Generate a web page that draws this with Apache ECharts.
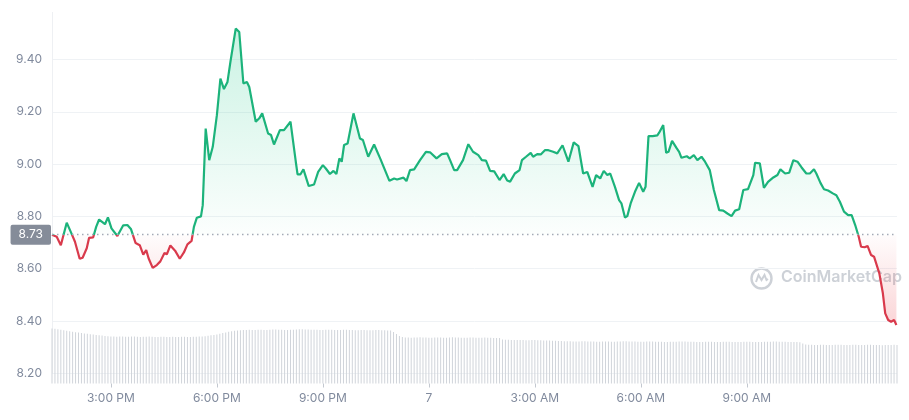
<!DOCTYPE html>
<html><head><meta charset="utf-8">
<script src="https://cdn.jsdelivr.net/npm/echarts@6/dist/echarts.min.js"></script>
<style>html,body{margin:0;padding:0;background:#fff}#c{width:909px;height:420px}</style>
</head><body><div id="c"></div>
<script>
// time slots: 5-minute steps starting 13:20
const startClock = [13, 20];
const stepMinutes = 5;

// price vertices: minutes after start, and price (USD)
const priceMinute = [0,8,15,25,33,39,47,52,59,63,70,75,80,90,95,101,111,121,128,134,142,149,155,160,164,171,178,184,191,195,201,209,217,224,230,237,241,246,253,256,
261,267,273,280,286,292,298,303,312,318,325,331,335,346,352,357,367,372,377,387,394,405,414,417,422,427,436,445,452,460,465,472,478,483,488,492,496,502,512,523,528,537,547,558,562,573,581,586,597,602,608,615,625,635,642,653,662,671,676,683,688,698,707,715,724,730,737,744,751,760,767,773,778,786,794,798,805,813,817,824,830,837,843,851,858,867,877,886,894,902,909,918,924,931,937,943,948,956,963,967,973,977,983,990,997,1004,1008,1013,1020,1023,1028,1031,1038,1043,1047,1053,1061,1065,1069,1078,1083,1090,1096,1103,1109,1117,1124,1133,1140,1147,1154,1160,1167,1174,1182,1191,1194,1202,1209,1216,1225,1232,1237,1245,1252,1259,1266,1273,1281,1287,1294,1298,1305,1311,1318,1326,1332,1338,1345,1352,1358,1364,1370,1374,1380,1385,1391,1396,1399,1405,1411,1415,1420,1425,1430,1434];
const price = [8.730,8.722,8.690,8.776,8.735,8.703,8.638,8.642,8.678,8.718,8.720,8.760,8.788,8.770,8.796,8.754,8.725,8.766,8.767,8.752,8.698,8.690,8.654,8.671,8.640,8.603,8.614,8.628,8.660,8.655,8.689,8.669,8.638,8.662,8.693,8.706,8.760,8.795,8.800,8.843,
9.136,9.015,9.066,9.187,9.327,9.287,9.314,9.391,9.518,9.505,9.308,9.314,9.295,9.162,9.175,9.194,9.117,9.111,9.075,9.130,9.130,9.162,9.009,8.961,8.961,8.980,8.916,8.922,8.970,8.996,8.983,8.962,8.974,8.962,9.022,9.009,9.073,9.079,9.194,9.098,9.092,9.028,9.075,9.018,8.996,8.936,8.945,8.941,8.948,8.935,8.977,8.980,9.015,9.047,9.045,9.022,9.038,9.041,9.015,8.977,8.977,9.015,9.076,9.047,9.034,9.015,9.013,8.974,8.972,8.939,8.962,8.937,8.933,8.964,8.977,9.015,9.028,9.043,9.028,9.038,9.037,9.053,9.053,9.047,9.041,9.072,9.009,9.083,9.069,8.964,8.970,8.913,8.958,8.945,8.974,8.958,8.964,8.913,8.862,8.850,8.796,8.801,8.852,8.894,8.928,8.894,8.913,9.107,9.107,9.113,9.110,9.120,9.149,9.043,9.047,9.089,9.060,9.047,9.024,9.030,9.022,9.034,9.015,9.028,9.009,8.977,8.901,8.824,8.822,8.811,8.801,8.822,8.827,8.901,8.904,8.958,9.005,9.003,8.909,8.932,8.949,8.958,8.980,8.964,8.967,9.015,9.009,8.987,8.964,8.964,8.980,8.964,8.928,8.904,8.899,8.888,8.881,8.856,8.818,8.805,8.805,8.767,8.722,8.684,8.682,8.687,8.652,8.646,8.652,8.582,8.506,8.429,8.404,8.397,8.404,8.385];

// 24h volume (millions USD), one bar per 5-minute slot
const volume = [
220,219,217,215,213,211,209,207,205,204,
202,200,199,197,196,194,193,192,190,189,
188,188,187,188,188,187,187,188,188,187,186,187,187,188,187,186,186,187,187,186,186,187,186,186,187,187,186,186,187,187,188,188,189,
191,193,194,196,199,202,204,207,209,211,212,
213,214,214,215,214,214,215,215,214,214,215,216,216,215,215,214,214,215,215,216,217,217,216,216,215,215,215,214,214,215,215,215,214,214,214,215,215,214,214,213,213,214,214,213,213,213,214,214,213,213,212,212,
206,198,190,186,
184,184,183,184,184,185,184,184,183,183,184,184,184,183,183,184,185,184,184,183,183,183,184,184,183,183,183,184,183,183,182,182,182,
176,175,175,174,174,174,174,174,173,173,174,174,173,173,172,172,172,171,171,170,
170,169,169,169,168,168,168,169,169,168,168,168,167,167,168,168,168,167,167,168,168,169,169,168,168,168,167,167,167,168,168,168,167,167,167,166,166,167,167,167,168,168,168,167,167,167,166,166,166,167,167,167,166,166,166,167,167,167,166,166,166,166,167,167,167,166,166,166,166,167,167,167,168,168,167,167,167,166,166,166,166,165,
160,156,155,155,154,154,155,155,154,154,154,155,155,155,154,154,154,155,155,154,154,154,155,155,154,154,154,153,154,154,154,155,154];

const basePrice = 8.73;
const yMin = 8.2, yMax = 9.58, yStep = 0.2;
const xTickTimes = ['15:00','18:00','21:00','00:00','03:00','06:00','09:00'];
const xTickLabels = ['3:00 PM','6:00 PM','9:00 PM','7','3:00 AM','6:00 AM','9:00 AM'];

const pad = n => (n < 10 ? '0' : '') + n;
const categories = volume.map((_, i) => {
  const m = (startClock[0] * 60 + startClock[1] + i * stepMinutes) % 1440;
  return pad(Math.floor(m / 60)) + ':' + pad(m % 60);
});
const spanMinutes = (volume.length - 1) * stepMinutes;
const pricePairs = price.map((v, i) => [priceMinute[i], v]);
const pMax = Math.max(...price), pMin = Math.min(...price);
const frac = (pMax - basePrice) / (pMax - pMin);

const GREEN = '#1cb37b', RED = '#d93a4c', GRAY = '#808a9d';
const isTick = (idx, val) => xTickTimes.indexOf(val) >= 0;

const chart = echarts.init(document.getElementById('c'), null, {renderer: 'canvas'});
chart.setOption({
  animation: false,
  backgroundColor: '#fff',
  textStyle: {fontFamily: 'Inter, "Noto Sans", sans-serif'},
  grid: [
    {left: 52, right: 12, top: 12.4, bottom: 46.7, containLabel: false},
    {left: 52, right: 12, top: 303.5, bottom: 36.5, containLabel: false}
  ],
  xAxis: [
    {type: 'value', gridIndex: 0, min: 0, max: spanMinutes, show: false},
    {type: 'category', gridIndex: 1, data: categories, boundaryGap: false,
     axisLine: {show: false},
     axisTick: {show: true, length: 4, interval: isTick, alignWithLabel: true, lineStyle: {color: '#c3c8d0'}},
     axisLabel: {interval: isTick, color: GRAY, fontSize: 12, margin: 9,
       formatter: v => xTickLabels[xTickTimes.indexOf(v)] || ''},
     splitLine: {show: false}}
  ],
  yAxis: [
    {type: 'value', gridIndex: 0, min: yMin, max: yMax, interval: yStep,
     axisLine: {show: true, lineStyle: {color: '#eef0f3'}},
     axisTick: {show: false},
     axisLabel: {color: GRAY, fontSize: 12, margin: 10, showMaxLabel: false,
       formatter: v => v.toFixed(2)},
     splitLine: {show: true, showMaxLine: false, lineStyle: {color: '#eff2f5', width: 1}}},
    {type: 'value', gridIndex: 1, min: 0, max: 320, show: false, splitLine: {show: false}}
  ],
  visualMap: {
    show: false, type: 'piecewise', seriesIndex: 0, dimension: 1,
    pieces: [{gte: 0, lt: basePrice, color: RED}, {gte: basePrice, lte: 100, color: GREEN}]
  },
  graphic: [
    {type: 'group', left: 749, top: 266, silent: true, children: [
      {type: 'circle', shape: {cx: 11.5, cy: 11.5, r: 10}, style: {fill: 'none', stroke: '#cdd1d7', lineWidth: 2.4}},
      {type: 'polyline', shape: {points: [[6, 15], [8.5, 8], [11.5, 13], [14.5, 8], [16.5, 13], [18, 12]]},
       style: {fill: 'none', stroke: '#cdd1d7', lineWidth: 2}},
      {type: 'text', x: 31, y: 2, style: {text: 'CoinMarketCap', fill: '#cdd1d7', font: '600 16px Inter, "Noto Sans", sans-serif'}}
    ]}
  ],
  series: [
    {type: 'line', xAxisIndex: 0, yAxisIndex: 0, data: pricePairs, symbol: 'none', smooth: false,
     lineStyle: {width: 2.2},
     areaStyle: {origin: basePrice, color: new echarts.graphic.LinearGradient(0, 0, 0, 1, [
       {offset: 0, color: 'rgba(22,199,132,0.32)'},
       {offset: frac, color: 'rgba(22,199,132,0.02)'},
       {offset: frac, color: 'rgba(234,57,67,0.02)'},
       {offset: 1, color: 'rgba(234,57,67,0.30)'}])},
     markLine: {silent: true, symbol: ['none', 'none'],
       lineStyle: {color: '#a3aab6', type: [1.5, 3.5], width: 1.3},
       label: {show: true, position: 'start', distance: 1, formatter: basePrice.toFixed(2),
         color: '#fff', backgroundColor: '#858c99', padding: [4, 8, 4, 8], fontSize: 12, borderRadius: 2},
       data: [{yAxis: basePrice}]}},
    {type: 'bar', xAxisIndex: 1, yAxisIndex: 1, data: volume, barWidth: 1,
     itemStyle: {color: '#d0d4da'}, silent: true}
  ]
});
</script></body></html>
